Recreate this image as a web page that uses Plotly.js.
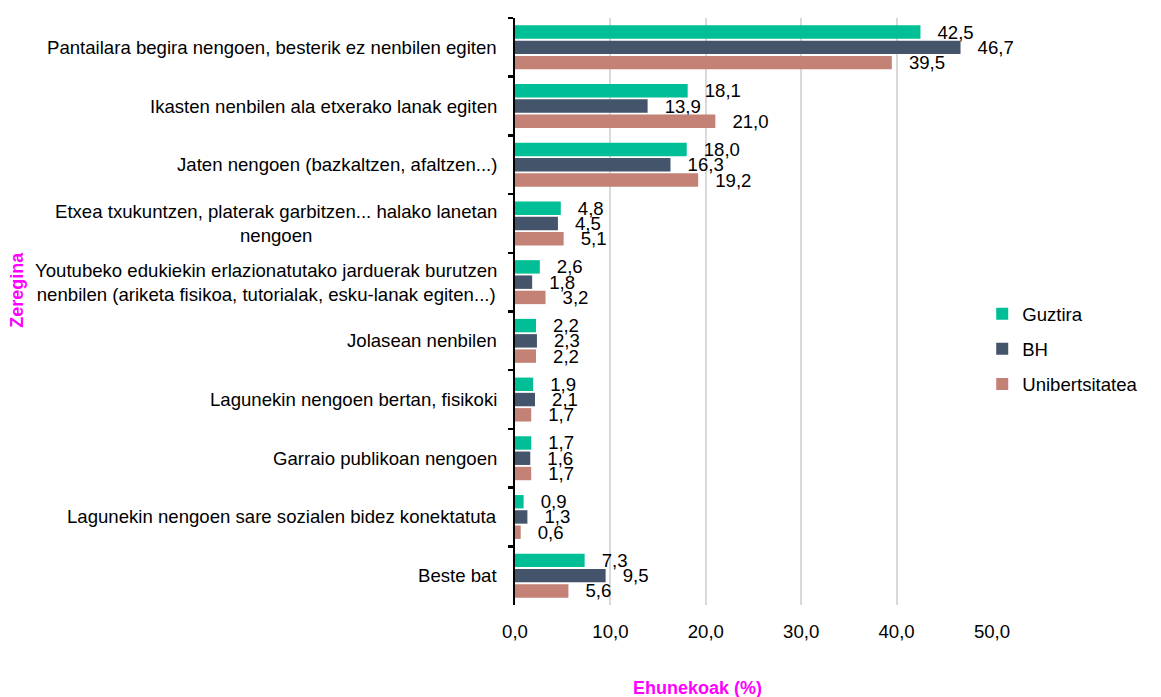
<!DOCTYPE html>
<html>
<head>
<meta charset="utf-8">
<script src="https://cdn.plot.ly/plotly-3.0.1.min.js"></script>
<style>html,body{margin:0;padding:0;background:#fff;}#chart{width:1161px;height:697px;}</style>
</head>
<body>
<div id="chart"></div>
<script>
const categories = [
  "Pantailara begira nengoen, besterik ez nenbilen egiten",
  "Ikasten nenbilen ala etxerako lanak egiten",
  "Jaten nengoen (bazkaltzen, afaltzen...)",
  "Etxea txukuntzen, platerak garbitzen... halako lanetan<br>nengoen",
  "Youtubeko edukiekin erlazionatutako jarduerak burutzen<br>nenbilen (ariketa fisikoa, tutorialak, esku-lanak egiten...)",
  "Jolasean nenbilen",
  "Lagunekin nengoen bertan, fisikoki",
  "Garraio publikoan nengoen",
  "Lagunekin nengoen sare sozialen bidez konektatuta",
  "Beste bat"
];
const seriesNames = ["Guztira", "BH", "Unibertsitatea"];
const guztira = [42.5, 18.1, 18.0, 4.8, 2.6, 2.2, 1.9, 1.7, 0.9, 7.3];
const bh = [46.7, 13.9, 16.3, 4.5, 1.8, 2.3, 2.1, 1.6, 1.3, 9.5];
const unibertsitatea = [39.5, 21.0, 19.2, 5.1, 3.2, 2.2, 1.7, 1.7, 0.6, 5.6];
const xTickVals = [0, 10, 20, 30, 40, 50];
const xTickText = ["0,0", "10,0", "20,0", "30,0", "40,0", "50,0"];
const xTitle = "Ehunekoak (%)";
const yTitle = "Zeregina";

const colors = ["#00BE96", "#44546A", "#C38275"];
const FONT = "Liberation Sans, Arial, sans-serif";
const FS = 18.6;
const fmt = v => "\u00a0\u00a0\u2009" + v.toFixed(1).replace(".", ",");

const seriesValues = [guztira, bh, unibertsitatea];
const traces = seriesValues.map((vals, i) => ({
  type: "bar",
  orientation: "h",
  name: seriesNames[i],
  legendgroup: "g" + i,
  x: vals,
  y: categories,
  text: vals.map(fmt),
  textposition: "outside",
  constraintext: "none",
  cliponaxis: false,
  textfont: {family: FONT, size: FS, color: "#000"},
  marker: {color: colors[i]},
  hoverinfo: "none"
}));

const labelAnns = categories.map(c => ({
  x: -0.034, xref: "paper", xanchor: "right",
  y: c, yref: "y", yanchor: "middle",
  text: c, showarrow: false, align: "center",
  font: {family: FONT, size: FS, color: "#000"}
}));

const layout = {
  width: 1161, height: 697,
  margin: {l: 515, r: 169, t: 18, b: 92},
  paper_bgcolor: "#fff", plot_bgcolor: "#fff",
  barmode: "group", bargap: 0.22, bargroupgap: 0.12,
  font: {family: FONT, size: FS, color: "#000"},
  showlegend: true,
  legend: {
    x: 0.9795, xanchor: "left", y: 0.436, yanchor: "middle",
    traceorder: "grouped", tracegroupgap: 8,
    font: {family: FONT, size: FS, color: "#000"},
    bgcolor: "rgba(0,0,0,0)"
  },
  xaxis: {
    range: [0, 50], tickvals: xTickVals, ticktext: xTickText,
    showgrid: true, gridcolor: "#D9D9D9", gridwidth: 2,
    zeroline: false, showline: false,
    ticks: "outside", ticklen: 10, tickcolor: "rgba(0,0,0,0)",
    tickfont: {family: FONT, size: FS, color: "#000"},
    fixedrange: true
  },
  yaxis: {
    type: "category", autorange: "reversed",
    showticklabels: false, showgrid: false, zeroline: false,
    showline: true, linecolor: "#000", linewidth: 2.5,
    ticks: "outside", tickson: "boundaries", ticklen: 5, tickwidth: 2.5, tickcolor: "#000",
    fixedrange: true
  },
  annotations: labelAnns.concat([
    {x: 0.3816, xref: "paper", y: -0.1414, yref: "paper", xanchor: "center", yanchor: "middle",
     text: "<b>" + xTitle + "</b>", showarrow: false,
     font: {family: FONT, size: 18, color: "#FF00FF"}},
    {x: -1.044, xref: "paper", y: 0.537, yref: "paper", xanchor: "center", yanchor: "middle",
     text: "<b>" + yTitle + "</b>", showarrow: false, textangle: -90,
     font: {family: FONT, size: 18, color: "#FF00FF"}}
  ])
};

Plotly.newPlot("chart", traces, layout, {displayModeBar: false, staticPlot: true});
</script>
</body>
</html>
